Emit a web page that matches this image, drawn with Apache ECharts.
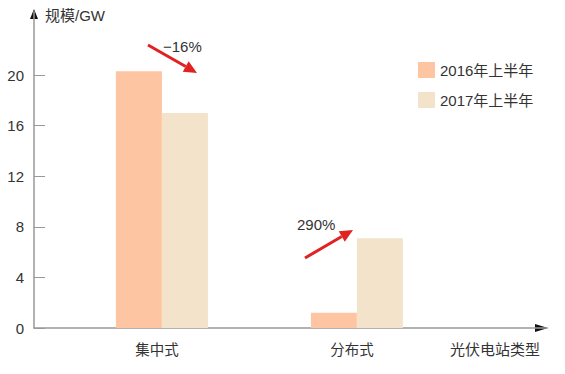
<!DOCTYPE html>
<html><head><meta charset="utf-8">
<script src="https://cdn.jsdelivr.net/npm/echarts@6/dist/echarts.min.js"></script>
<style>html,body{margin:0;padding:0;background:#fff}#c{width:565px;height:374px}</style>
</head><body><div id="c"></div>
<script>
const categories = ['集中式', '分布式'];
const seriesNames = ['2016年上半年', '2017年上半年'];
const values2016 = [20.3, 1.2];
const values2017 = [17.0, 7.1];
const yTicks = [0, 4, 8, 12, 16, 20];
const changeLabels = ['−16%', '290%'];

const FONT = '"Liberation Sans", "Noto Sans CJK SC", sans-serif';
const chart = echarts.init(document.getElementById('c'), null, {renderer: 'svg'});

function arrow(x1, y1, x2, y2, color, w, hl, hw) {
  const dx = x2 - x1, dy = y2 - y1, L = Math.hypot(dx, dy);
  const ux = dx / L, uy = dy / L, nx = -uy, ny = ux;
  const bx = x2 - ux * hl, by = y2 - uy * hl;
  return [
    {type: 'line', shape: {x1, y1, x2: bx, y2: by}, style: {stroke: color, lineWidth: w}},
    {type: 'polygon', shape: {points: [[x2, y2], [bx + nx * hw, by + ny * hw], [bx - nx * hw, by - ny * hw]]}, style: {fill: color}}
  ];
}

const option = {
  animation: false,
  textStyle: {fontFamily: FONT},
  grid: {left: 34, right: 18, top: 11.75, bottom: 46, containLabel: false},
  legend: {
    orient: 'vertical', left: 413, top: 57, itemWidth: 17, itemHeight: 16, itemGap: 14,
    icon: 'rect', textStyle: {fontSize: 15, color: '#333', fontFamily: FONT},
    data: seriesNames
  },
  xAxis: {
    type: 'value', min: -0.656, max: 1.975,
    splitLine: {show: false}, axisTick: {show: false},
    axisLine: {onZero: false, lineStyle: {color: '#999', width: 1.5}},
    axisLabel: {customValues: [0, 1], formatter: v => categories[Math.round(v)] || '',
      fontSize: 14.5, color: '#333', margin: 15, padding: [0, 10, 0, 0], fontFamily: FONT},
    name: '光伏电站类型', nameLocation: 'end', nameGap: -7,
    nameTextStyle: {align: 'right', verticalAlign: 'top', padding: [14, 0, 0, 0], fontSize: 15, color: '#333', fontFamily: FONT}
  },
  yAxis: {
    type: 'value', min: 0, max: 25,
    splitLine: {show: false},
    axisLine: {show: true, onZero: false, lineStyle: {color: '#999', width: 1.5}},
    axisTick: {show: true, inside: true, length: 11, customValues: yTicks, lineStyle: {color: '#999'}},
    axisLabel: {customValues: yTicks, fontSize: 15, color: '#333', margin: 10, fontFamily: FONT},
    name: '规模/GW', nameLocation: 'end', nameGap: -4,
    nameTextStyle: {align: 'left', verticalAlign: 'middle', padding: [0, 0, 0, 11], fontSize: 15, color: '#333', fontFamily: FONT}
  },
  series: [
    {name: seriesNames[0], type: 'bar', barWidth: 46, barGap: '0%',
     itemStyle: {color: '#FEC5A2'}, data: values2016.map((v, i) => [i, v])},
    {name: seriesNames[1], type: 'bar', barWidth: 46, barGap: '0%',
     itemStyle: {color: '#F3E3CA'}, data: values2017.map((v, i) => [i, v])}
  ],
  graphic: [
    {type: 'polygon', shape: {points: [[34, 9], [30, 19], [38, 19]]}, style: {fill: '#111'}},
    {type: 'polygon', shape: {points: [[548, 328], [535, 324], [535, 332]]}, style: {fill: '#111'}},
    ...arrow(148, 45, 197, 73, '#E02222', 3, 13, 6),
    ...arrow(305, 258, 353, 230, '#E02222', 3, 13, 6),
    {type: 'text', x: 163, y: 46, style: {text: changeLabels[0], fontSize: 15, fill: '#333', verticalAlign: 'middle', font: '15px ' + FONT}},
    {type: 'text', x: 297, y: 224, style: {text: changeLabels[1], fontSize: 15, fill: '#333', verticalAlign: 'middle', font: '15px ' + FONT}}
  ]
};
chart.setOption(option);
</script>
</body></html>
